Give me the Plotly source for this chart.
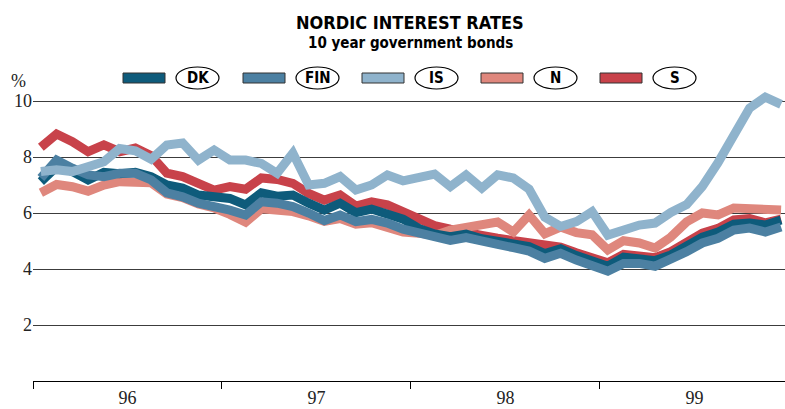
import plotly.graph_objects as go

# ---- data (monthly, Jan 1996 - Dec 1999) ----
months = list(range(48))
year_labels = ["96", "97", "98", "99"]
series_names = ["DK", "FIN", "IS", "N", "S"]

dk = [7.12, 7.65, 7.48, 7.18, 7.45, 7.40, 7.45, 7.30, 7.00, 6.89, 6.64, 6.58,
      6.52, 6.29, 6.72, 6.60, 6.64, 6.35, 6.10, 6.35, 6.01, 6.14, 6.00, 5.78,
      5.45, 5.25, 5.15, 5.25, 5.08, 5.00, 4.90, 4.80, 4.55, 4.72, 4.48, 4.30,
      4.10, 4.42, 4.40, 4.30, 4.50, 4.85, 5.14, 5.32, 5.60, 5.64, 5.57, 5.75]
fin = [7.25, 7.89, 7.60, 7.36, 7.30, 7.42, 7.42, 7.18, 6.72, 6.58, 6.35, 6.25,
       6.10, 5.93, 6.40, 6.35, 6.23, 6.00, 5.73, 5.93, 5.69, 5.77, 5.64, 5.42,
       5.30, 5.12, 5.02, 5.12, 4.96, 4.88, 4.76, 4.64, 4.38, 4.56, 4.32, 4.15,
       3.92, 4.20, 4.20, 4.10, 4.32, 4.62, 4.93, 5.10, 5.39, 5.46, 5.32, 5.50]
is_ = [7.48, 7.54, 7.48, 7.65, 7.83, 8.30, 8.22, 7.92, 8.43, 8.50, 7.89, 8.25,
       7.89, 7.89, 7.77, 7.42, 8.14, 7.00, 7.06, 7.30, 6.82, 7.00, 7.36, 7.15,
       7.30, 7.39, 6.94, 7.36, 6.89, 7.36, 7.25, 6.85, 5.85, 5.52, 5.69, 6.05,
       5.21, 5.39, 5.57, 5.64, 6.02, 6.30, 6.95, 7.80, 8.70, 9.75, 10.14, 9.88]
n = [6.72, 7.02, 6.94, 6.78, 7.00, 7.12, 7.10, 7.08, 6.68, 6.55, 6.32, 6.18,
     5.95, 5.67, 6.15, 6.12, 6.05, 5.90, 5.70, 5.80, 5.60, 5.65, 5.50, 5.32,
     5.28, 5.20, 5.39, 5.50, 5.53, 5.68, 5.32, 5.93, 5.26, 5.50, 5.30, 5.22,
     4.68, 5.01, 4.93, 4.75, 5.14, 5.68, 6.00, 5.93, 6.18, 6.18, 6.18, 6.11]
s = [8.35, 8.82, 8.55, 8.19, 8.43, 8.19, 8.32, 8.05, 7.42, 7.30, 7.06, 6.82,
     6.94, 6.85, 7.25, 7.20, 7.06, 6.70, 6.46, 6.64, 6.25, 6.40, 6.29, 6.02,
     5.75, 5.55, 5.42, 5.35, 5.20, 5.10, 5.00, 4.92, 4.80, 4.78, 4.58, 4.42,
     4.22, 4.52, 4.48, 4.40, 4.62, 4.98, 5.28, 5.45, 5.75, 5.80, 5.65, 5.78]

colors = {"DK": "#0e5b7b", "FIN": "#4c80a2", "IS": "#8fb3cc",
          "N": "#df877d", "S": "#c8424a"}
values = {"DK": dk, "FIN": fin, "IS": is_, "N": n, "S": s}

W, H = 785, 409
ML, MR, MT, MB = 33, 0, 87, 28
PW, PH = W - ML - MR, H - MT - MB

def px(xp):
    return (xp - ML) / PW

def py(yp):
    return (H - MB - yp) / PH

x = [m + 0.5 for m in months]

fig = go.Figure()
for name in ["S", "N", "DK", "FIN", "IS"]:
    fig.add_trace(go.Scatter(x=x, y=values[name], mode="lines", name=name,
                             line=dict(color=colors[name], width=9),
                             showlegend=False, hoverinfo="skip"))

COND = "Liberation Sans Narrow, DejaVu Sans Condensed, Arial Narrow, sans-serif"
SERIF = "Times New Roman, Liberation Serif, Tinos, DejaVu Serif, serif"

shapes = []
annotations = []
# custom legend: colour bar + ellipse with label
leg_rect_x0 = [123, 243, 362, 481, 600]
for i, name in enumerate(series_names):
    x0 = leg_rect_x0[i]
    shapes.append(dict(type="rect", xref="paper", yref="paper",
                       x0=px(x0), x1=px(x0 + 42), y0=py(83), y1=py(73),
                       fillcolor=colors[name], line=dict(color="#333", width=1)))
    ex0 = x0 + 53
    shapes.append(dict(type="circle", xref="paper", yref="paper",
                       x0=px(ex0), x1=px(ex0 + 43), y0=py(89), y1=py(67),
                       fillcolor="white", line=dict(color="black", width=1.2)))
    annotations.append(dict(text="<b>%s</b>" % name, xref="paper", yref="paper",
                            x=px(ex0 + 21.5), y=py(78), showarrow=False,
                            xanchor="center", yanchor="middle",
                            font=dict(family=COND, size=15, color="black")))

annotations.append(dict(text="<b>NORDIC INTEREST RATES</b>", xref="paper", yref="paper",
                        x=px(410), y=py(22), showarrow=False, xanchor="center", yanchor="middle",
                        font=dict(family=COND, size=18, color="black")))
annotations.append(dict(text="<b>10 year government bonds</b>", xref="paper", yref="paper",
                        x=px(410), y=py(43), showarrow=False, xanchor="center", yanchor="middle",
                        font=dict(family=COND, size=15, color="black")))
annotations.append(dict(text="%", xref="paper", yref="paper",
                        x=px(18), y=py(81), showarrow=False, xanchor="center", yanchor="middle",
                        font=dict(family=SERIF, size=18, color="#222")))

fig.update_layout(
    width=W, height=H,
    margin=dict(l=ML, r=MR, t=MT, b=MB, pad=0),
    paper_bgcolor="white", plot_bgcolor="white",
    shapes=shapes, annotations=annotations,
    xaxis=dict(range=[0, 47.75], showgrid=False, zeroline=False,
               showline=True, linecolor="black", linewidth=1.3,
               tickmode="array", tickvals=[6, 18, 30, 42], ticktext=year_labels,
               ticks="", tickfont=dict(family=SERIF, size=18, color="#222"),
               minor=dict(tickmode="array", tickvals=[0, 12, 24, 36], ticks="outside",
                          ticklen=7, tickwidth=1.3, tickcolor="black", showgrid=False)),
    yaxis=dict(range=[0, 10.5], showgrid=True, gridcolor="#3c3c3c", gridwidth=1.3,
               zeroline=False, showline=False, tickmode="array",
               tickvals=[2, 4, 6, 8, 10], ticks="",
               tickfont=dict(family=SERIF, size=18, color="#222")),
)

fig.write_html("out.html", config={"displayModeBar": False},
               post_script="document.body.style.margin='0';document.body.style.padding='0';document.body.style.overflow='hidden';")
